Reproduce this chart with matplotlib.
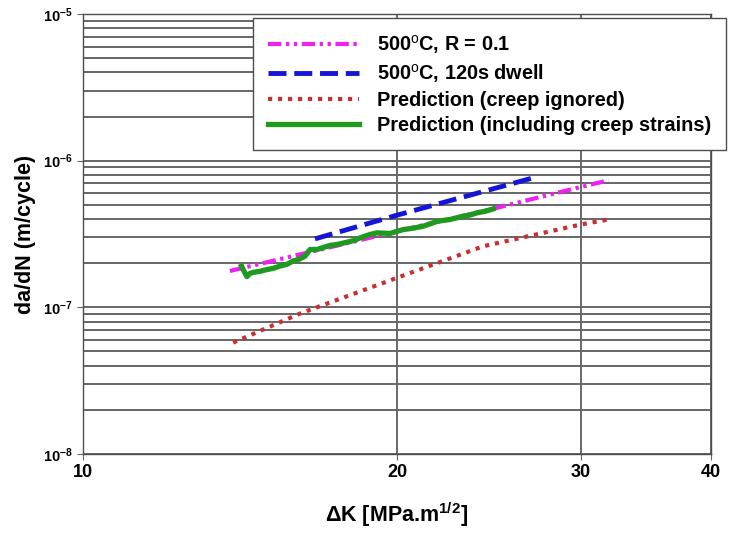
import matplotlib
matplotlib.use("Agg")
import matplotlib.pyplot as plt
from matplotlib.ticker import LogLocator, NullLocator, FixedLocator, NullFormatter

plt.rcParams['font.family'] = ['Liberation Sans', 'DejaVu Sans']
plt.rcParams['mathtext.fontset'] = 'custom'
plt.rcParams['mathtext.rm'] = 'Liberation Sans'
plt.rcParams['mathtext.bf'] = 'Liberation Sans:bold'

# 500C, R = 0.1
k_r01 = [13.83, 16.0, 20.0, 24.7, 28.0, 31.9]
dadn_r01 = [1.77e-7, 2.26e-7, 3.30e-7, 4.69e-7, 5.86e-7, 7.35e-7]

# 500C, 120s dwell
k_dwell = [16.69, 20.0, 27.2]
dadn_dwell = [2.93e-7, 4.25e-7, 7.74e-7]

# prediction, creep ignored
k_pred = [13.93, 16.14, 20.0, 24.2, 30.0, 31.9]
dadn_pred = [5.75e-8, 9.06e-8, 1.59e-7, 2.61e-7, 3.67e-7, 3.97e-7]

# prediction including creep strains (noisy)
k_creep = [14.19, 14.27, 14.36, 14.45, 14.55, 14.78, 15.01, 15.2, 15.45, 15.7,
           15.90, 16.1, 16.32, 16.51, 16.77, 17.0, 17.25, 17.6, 17.91, 18.2,
           18.44, 18.85, 19.14, 19.70, 20.27, 20.7, 21.18, 21.5, 21.85, 22.49,
           23.14, 23.5, 23.87, 24.3, 24.73]
dadn_creep = [1.91e-7, 1.76e-7, 1.62e-7, 1.70e-7, 1.73e-7, 1.76e-7, 1.81e-7, 1.84e-7, 1.91e-7, 1.97e-7,
              2.07e-7, 2.12e-7, 2.23e-7, 2.48e-7, 2.48e-7, 2.56e-7, 2.64e-7, 2.70e-7, 2.78e-7, 2.86e-7,
              2.98e-7, 3.14e-7, 3.22e-7, 3.19e-7, 3.39e-7, 3.46e-7, 3.57e-7, 3.70e-7, 3.86e-7, 3.97e-7,
              4.18e-7, 4.26e-7, 4.41e-7, 4.52e-7, 4.69e-7]

labels = ["500$^{\\mathrm{o}}$C, R = 0.1", "500$^{\\mathrm{o}}$C, 120s dwell",
          "Prediction (creep ignored)", "Prediction (including creep strains)"]

x_ticks = [10, 20, 30, 40]

fig = plt.figure(figsize=(7.33, 5.34), dpi=100)
ax = fig.add_axes([83/733, 80/534, 628/733, 440/534])

ax.set_xscale('log')
ax.set_yscale('log')
ax.set_xlim(10, 40)
ax.set_ylim(1e-8, 1e-5)

l1, = ax.plot(k_r01, dadn_r01, color='#ee22ee', lw=3.0,
              dashes=(3.2, 1.1, 0.8, 1.1, 0.8, 1.1), label=labels[0])
l2, = ax.plot(k_dwell, dadn_dwell, color='#1515d8', lw=3.5,
              dashes=(3.7, 1.6), label=labels[1])
l3, = ax.plot(k_pred, dadn_pred, color='#c83030', lw=3.0,
              dashes=(1.0, 1.4), label=labels[2])
l4, = ax.plot(k_creep, dadn_creep, color='#1e9a1e', lw=3.8, label=labels[3])

ax.xaxis.set_major_locator(FixedLocator(x_ticks))
ax.xaxis.set_minor_locator(NullLocator())
ax.set_xticklabels([str(v) for v in x_ticks], fontweight='bold', fontsize=13)

ax.yaxis.set_minor_locator(LogLocator(base=10, subs=range(2, 10), numticks=20))
ax.yaxis.set_minor_formatter(NullFormatter())
ax.set_yticks([1e-8, 1e-7, 1e-6, 1e-5])
ax.set_yticklabels([r'$\mathbf{10^{-8}}$', r'$\mathbf{10^{-7}}$',
                    r'$\mathbf{10^{-6}}$', r'$\mathbf{10^{-5}}$'], fontsize=10.5)

ax.grid(True, which='major', axis='x', color='0.25', lw=1.1)
ax.grid(True, which='both', axis='y', color='0.4', lw=1.4)
ax.set_axisbelow(True)

ax.tick_params(which='major', direction='out', length=4, color='0.4')
ax.tick_params(which='minor', length=0)
for s in ax.spines.values():
    s.set_color('0.3')
    s.set_linewidth(1.0)

ax.set_xlabel(r'ΔK [MPa.m$^{\mathbf{1/2}}$]', fontweight='bold', fontsize=15.5, labelpad=14)
ax.set_ylabel('da/dN (m/cycle)', fontweight='bold', fontsize=15.5, labelpad=5)

leg = fig.legend(handles=[l1, l2, l3, l4], loc='upper left',
                 bbox_to_anchor=(253/733, 1 - 18/534), borderaxespad=0,
                 handlelength=4.6, labelspacing=0.3, handletextpad=0.9,
                 borderpad=0.75, fancybox=False, framealpha=1.0,
                 edgecolor='0.3', prop={'weight': 'bold', 'size': 14.3})
leg.get_frame().set_linewidth(1.0)

fig.savefig('out.png', dpi=100)
